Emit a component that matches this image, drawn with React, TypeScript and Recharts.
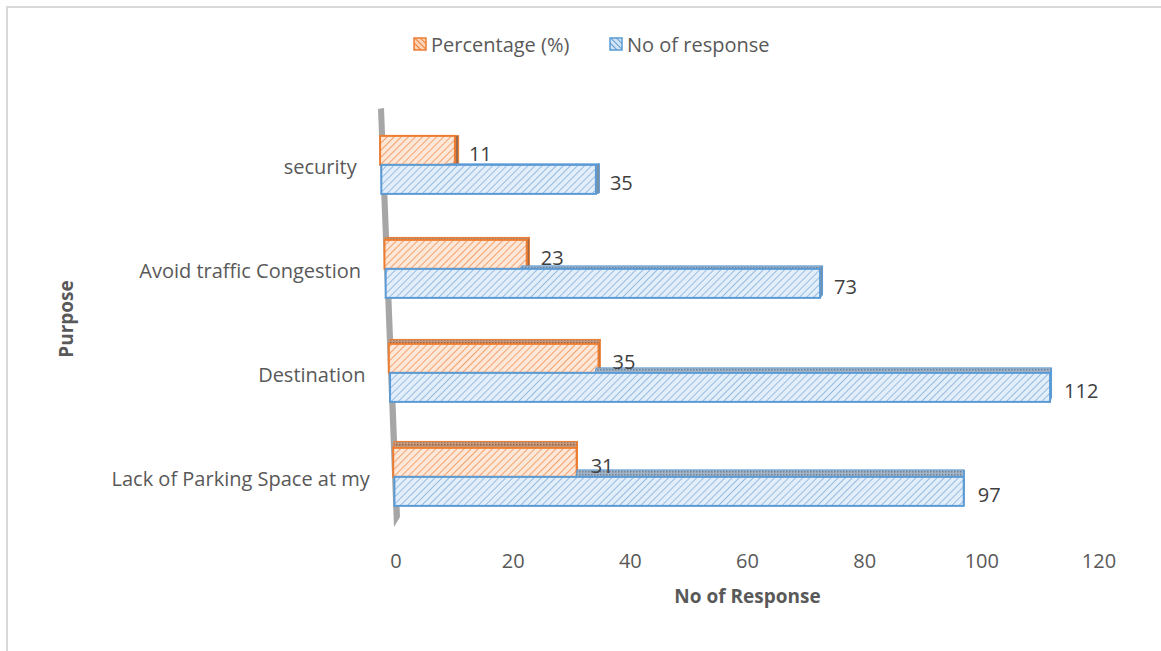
import { BarChart, Bar, XAxis, YAxis, LabelList, Customized } from 'recharts'

const categories = ['security', 'Avoid traffic Congestion', 'Destination', 'Lack of Parking Space at my']
const percentage = [11, 23, 35, 31]
const responses = [35, 73, 112, 97]
const xTicks = [0, 20, 40, 60, 80, 100, 120]

const data = categories.map((name, i) => ({ name, pct: percentage[i], resp: responses[i] }))

const W = 1161
const H = 651
const PLOT_LEFT = 396
const PLOT_RIGHT = 1099
const PLOT_TOP = 113
const PLOT_BOTTOM = 529
const Y_AXIS_W = 300
const X_AXIS_H = 40
const SLANT = 0.042
const FONT = '"Open Sans", Lato, sans-serif'

const ORANGE = '#ed7d31'
const BLUE = '#5b9bd5'

// perspective lean of the 3D floor: things higher up drift left
const shiftAt = (y: number) => -(PLOT_BOTTOM - y) * SLANT
const depthAt = (y: number) => Math.max(0, ((y - PLOT_TOP) / (PLOT_BOTTOM - PLOT_TOP)) * 8)

const barEnds = (x: number, y: number, width: number, height: number) => {
  const s = shiftAt(y + height / 2)
  return { x0: x + s, x1: x + width + s * 0.35 }
}

const makeShape = (kind: 'pct' | 'resp') => (props: any) => {
  const { x, y, width, height, payload, value } = props
  const { x0, x1 } = barEnds(x, y, width, height)
  const d = depthAt(y)
  const side = Math.max(0, 4 - d * 0.5)
  const stroke = kind === 'pct' ? ORANGE : BLUE
  let topStart = x0
  if (kind === 'resp' && value) {
    // the orange bar in front hides part of the top face
    const pxPer = width / value
    topStart = Math.min(x1, x0 + payload.pct * pxPer)
  }
  return (
    <g>
      {d > 0.5 && (
        <polygon
          points={`${topStart},${y} ${topStart + 1},${y - d} ${x1 + side},${y - d} ${x1},${y}`}
          fill={`url(#${kind}Top)`}
          stroke={stroke}
          strokeWidth={1}
        />
      )}
      {side > 0.5 && (
        <polygon
          points={`${x1},${y} ${x1 + side},${y - d} ${x1 + side},${y + height - d} ${x1},${y + height}`}
          fill={kind === 'pct' ? '#9c6a4c' : '#7d8fa3'}
          stroke={stroke}
          strokeWidth={1}
        />
      )}
      <rect x={x0} y={y} width={x1 - x0} height={height} fill={`url(#${kind}Hatch)`} stroke={stroke} strokeWidth={2} />
    </g>
  )
}

const makeLabel = (kind: 'pct' | 'resp') => (props: any) => {
  const { x, y, width, height, value } = props
  const { x1 } = barEnds(x, y, width, height)
  return (
    <text x={x1 + 14} y={y + height / 2 + 3} fill="#404040" fontSize={20} fontFamily={FONT} dominantBaseline="central">
      {value}
    </text>
  )
}

const CategoryTick = (props: any) => {
  const { y, payload } = props
  return (
    <text x={PLOT_LEFT - 24 + shiftAt(y)} y={y + 1} textAnchor="end" dominantBaseline="central" fill="#595959" fontSize={20} fontFamily={FONT}>
      {payload.value}
    </text>
  )
}

const ValueTick = (props: any) => {
  const { x, payload } = props
  return (
    <text x={x} y={PLOT_BOTTOM + 31} textAnchor="middle" dominantBaseline="central" fill="#595959" fontSize={20} fontFamily={FONT}>
      {payload.value}
    </text>
  )
}

const SlantAxis = () => (
  <polygon
    points={`${PLOT_LEFT - 18},${PLOT_TOP - 4} ${PLOT_LEFT - 12},${PLOT_TOP - 5} ${PLOT_LEFT + 4},${PLOT_BOTTOM - 12} ${PLOT_LEFT - 2},${PLOT_BOTTOM - 2}`}
    fill="#a6a6a6"
  />
)

function Patterns() {
  return (
    <svg width={0} height={0} style={{ position: 'absolute' }}>
      <defs>
        <pattern id="pctHatch" width={5} height={5} patternUnits="userSpaceOnUse" patternTransform="rotate(45)">
          <rect width={5} height={5} fill="#fde7d8" />
          <line x1={0} y1={0} x2={0} y2={5} stroke="#f3a36d" strokeWidth={2} />
        </pattern>
        <pattern id="respHatch" width={5} height={5} patternUnits="userSpaceOnUse" patternTransform="rotate(45)">
          <rect width={5} height={5} fill="#e4eef9" />
          <line x1={0} y1={0} x2={0} y2={5} stroke="#95bde4" strokeWidth={2} />
        </pattern>
        <pattern id="pctTop" width={3} height={3} patternUnits="userSpaceOnUse">
          <rect width={3} height={3} fill="#c49a80" />
          <rect width={1.5} height={1.5} fill="#8e5f44" />
        </pattern>
        <pattern id="respTop" width={3} height={3} patternUnits="userSpaceOnUse">
          <rect width={3} height={3} fill="#a4b4c6" />
          <rect width={1.5} height={1.5} fill="#6f8298" />
        </pattern>
        <pattern id="pctIcon" width={4} height={4} patternUnits="userSpaceOnUse" patternTransform="rotate(-45)">
          <rect width={4} height={4} fill="#fbd3b8" />
          <line x1={0} y1={0} x2={0} y2={4} stroke={ORANGE} strokeWidth={2} />
        </pattern>
        <pattern id="respIcon" width={4} height={4} patternUnits="userSpaceOnUse" patternTransform="rotate(-45)">
          <rect width={4} height={4} fill="#d3e4f5" />
          <line x1={0} y1={0} x2={0} y2={4} stroke={BLUE} strokeWidth={2} />
        </pattern>
      </defs>
    </svg>
  )
}

const legendItems = [
  { label: 'Percentage (%)', icon: 'pctIcon', color: ORANGE, left: 413 },
  { label: 'No of response', icon: 'respIcon', color: BLUE, left: 609 },
]

export default function App() {
  return (
    <div style={{ position: 'absolute', left: 0, top: 0, width: W, height: H, background: '#fff', overflow: 'hidden' }}>
      <Patterns />
      <div style={{ position: 'absolute', left: 6, top: 6, width: W + 20, height: H + 20, borderLeft: '2px solid #d9d9d9', borderTop: '2px solid #d9d9d9' }} />
      {legendItems.map(item => (
        <div key={item.label} style={{ position: 'absolute', left: item.left, top: 31, height: 26, display: 'flex', alignItems: 'center', fontFamily: FONT, fontSize: 20, color: '#595959' }}>
          <svg width={14} height={14} style={{ marginRight: 4 }}>
            <rect x={1} y={1} width={12} height={12} fill={`url(#${item.icon})`} stroke={item.color} strokeWidth={1.5} />
          </svg>
          {item.label}
        </div>
      ))}
      <div style={{ position: 'absolute', left: 0, top: 0 }}>
        <BarChart
          width={W}
          height={H}
          data={data}
          layout="vertical"
          barCategoryGap="22%"
          barGap={0}
          margin={{ top: PLOT_TOP, right: W - PLOT_RIGHT, bottom: H - PLOT_BOTTOM - X_AXIS_H, left: PLOT_LEFT - Y_AXIS_W }}
        >
          <XAxis type="number" domain={[0, 120]} ticks={xTicks} tick={<ValueTick />} tickLine={false} axisLine={false} height={X_AXIS_H} />
          <YAxis type="category" dataKey="name" width={Y_AXIS_W} tick={<CategoryTick />} tickLine={false} axisLine={false} />
          <Customized component={SlantAxis} />
          <Bar dataKey="pct" name="Percentage (%)" shape={makeShape('pct')} isAnimationActive={false}>
            <LabelList dataKey="pct" content={makeLabel('pct')} />
          </Bar>
          <Bar dataKey="resp" name="No of response" shape={makeShape('resp')} isAnimationActive={false}>
            <LabelList dataKey="resp" content={makeLabel('resp')} />
          </Bar>
        </BarChart>
      </div>
      <div style={{ position: 'absolute', left: 66, top: 319, transform: 'translate(-50%, -50%) rotate(-90deg)', fontFamily: FONT, fontWeight: 700, fontSize: 19, color: '#595959', whiteSpace: 'nowrap' }}>
        Purpose
      </div>
      <div style={{ position: 'absolute', left: (PLOT_LEFT + PLOT_RIGHT) / 2, top: 596, transform: 'translate(-50%, -50%)', fontFamily: FONT, fontWeight: 700, fontSize: 19, color: '#595959', whiteSpace: 'nowrap' }}>
        No of Response
      </div>
    </div>
  )
}
